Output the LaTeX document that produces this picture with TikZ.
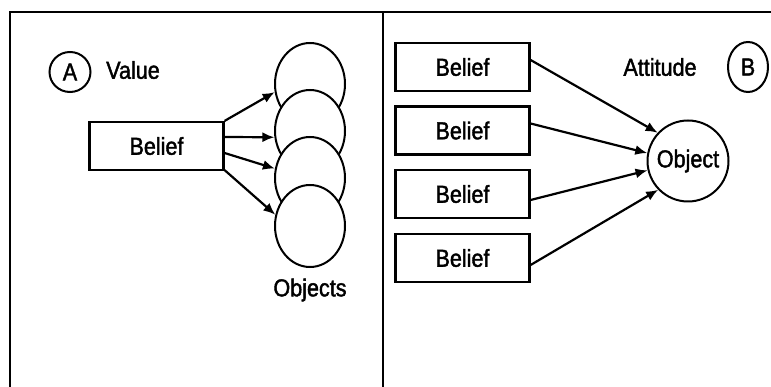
\documentclass[tikz,border=0pt]{standalone}
\usepackage{fontspec}
\setmainfont[FakeStretch=0.88,BoldFont={Liberation Sans},BoldFeatures={FakeBold=1.6}]{Liberation Sans}
\usetikzlibrary{shapes.geometric,arrows.meta}
\tikzset{
  beliefbox/.style={draw,line width=2.2pt,minimum width=134pt,minimum height=48pt,inner sep=0pt},
  objoval/.style={draw,ellipse,line width=2pt,fill=white,minimum width=70pt,minimum height=82pt,inner sep=0pt},
  tagoval/.style={draw,ellipse,line width=2pt,inner sep=0pt},
  arr/.style={-{Latex[length=12pt,width=10pt]},line width=2.2pt},
}
\begin{document}
\begin{tikzpicture}[x=1pt,y=-1pt,font=\fontsize{24.5}{28}\selectfont\bfseries]
    \useasboundingbox (0,0) rectangle (771,387);
    \fill[white] (0,0) rectangle (771,387);
    \draw[line width=2.4pt] (10,387)--(10,12)--(771,12);
    \draw[line width=2.4pt] (383,12)--(383,387);

    % A: value
    \node[tagoval,minimum width=41pt,minimum height=40pt] (tagA) at (70,72) {A};
    \node (value) at (133,70) {Value};
    \node[beliefbox] (bA) at (156.5,146) {Belief};
    \foreach \i/\y in {1/84,2/131,3/178,4/226}
      \node[objoval] (ov\i) at (310,\y) {};
    \node (objects) at (310,290) {Objects};
    \draw[arr] (bA.north east) -- (ov1.193);
    \draw[arr] ([yshift=9pt]bA.east) -- (ov2.190);
    \draw[arr] ([yshift=-7pt]bA.east) -- (ov3.165);
    \draw[arr] ([yshift=1pt]bA.south east) -- (ov4.162);

    % B: attitude
    \foreach \i/\y in {1/67,2/130.5,3/194,4/258}
      \node[beliefbox] (b\i) at (462.5,\y) {Belief};
    \node (attitude) at (660,67) {Attitude};
    \node[tagoval,minimum width=40pt,minimum height=50pt] (tagB) at (748,67) {B};
    \node[draw,circle,line width=2pt,minimum size=81pt,inner sep=0pt] (object) at (688,161) {Object};
    \draw[arr] ([yshift=7pt]b1.east) -- (object.137);
    \draw[arr] ([yshift=7pt]b2.east) -- (object.169);
    \draw[arr] ([yshift=-6pt]b3.east) -- (object.193);
    \draw[arr] ([yshift=-7pt]b4.east) -- (object.224);
\end{tikzpicture}
\end{document}
